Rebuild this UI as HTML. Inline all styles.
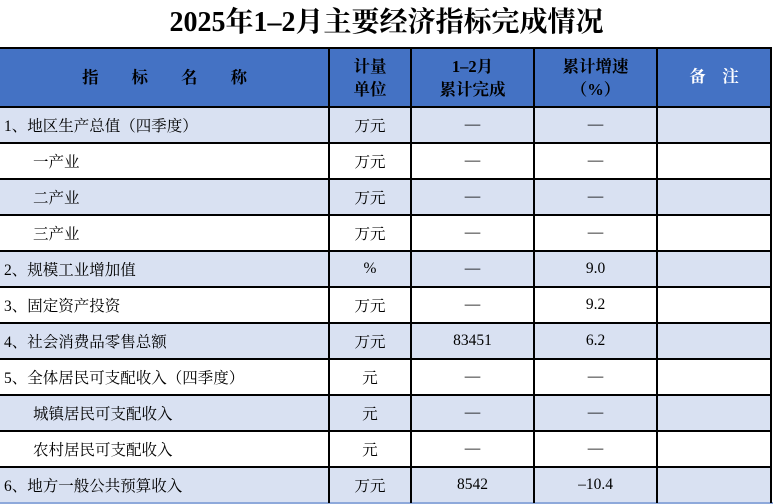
<!DOCTYPE html>
<html><head><meta charset="utf-8"><style>
body{margin:0;width:773px;height:504px;background:#fff;position:relative;overflow:hidden;font-family:"Liberation Serif","Noto Serif CJK SC",serif;color:#000}
.t{position:absolute;left:0;top:3px;width:773px;text-align:center;font-size:28px;font-weight:bold;line-height:40px}
.c{position:absolute;box-sizing:border-box;display:flex;align-items:center;justify-content:center;font-size:15.5px;text-align:center}
.h{font-weight:bold;line-height:23px;font-size:16.5px}
.l{justify-content:flex-start;padding-left:4px}
.l2{justify-content:flex-start;padding-left:33px}
.hl{position:absolute;height:2px;background:#000;left:0;width:772px}
.vl{position:absolute;width:2px;background:#000;top:47px;height:456px}
</style></head><body>
<div class="t">2025年1–2月主要经济指标完成情况</div>
<div style="position:absolute;left:0;top:48px;width:771px;height:59px;background:#4472C4"></div>
<div style="position:absolute;left:0;top:107px;width:771px;height:36px;background:#D9E1F2"></div>
<div style="position:absolute;left:0;top:179px;width:771px;height:36px;background:#D9E1F2"></div>
<div style="position:absolute;left:0;top:251px;width:771px;height:36px;background:#D9E1F2"></div>
<div style="position:absolute;left:0;top:323px;width:771px;height:36px;background:#D9E1F2"></div>
<div style="position:absolute;left:0;top:395px;width:771px;height:36px;background:#D9E1F2"></div>
<div style="position:absolute;left:0;top:467px;width:771px;height:36px;background:#D9E1F2"></div>
<div style="position:absolute;left:0;top:502px;width:773px;height:2px;background:#8EA9DB"></div>

<div class="c h" style="left:0;top:48px;width:329px;height:59px">指&emsp;&emsp;标&emsp;&emsp;名&emsp;&emsp;称</div>
<div class="c h" style="left:329px;top:48px;width:82px;height:59px">计量<br>单位</div>
<div class="c h" style="left:411px;top:48px;width:123px;height:59px">1–2月<br>累计完成</div>
<div class="c h" style="left:534px;top:48px;width:123px;height:59px">累计增速<br>（%）</div>
<div class="c h" style="left:657px;top:48px;width:114px;height:59px;color:#fff;align-items:flex-start;padding-top:17px">备&emsp;注</div>

<div class="c l" style="left:0;top:107px;width:329px;height:36px">1、地区生产总值（四季度）</div>
<div class="c l2" style="left:0;top:143px;width:329px;height:36px">一产业</div>
<div class="c l2" style="left:0;top:179px;width:329px;height:36px">二产业</div>
<div class="c l2" style="left:0;top:215px;width:329px;height:36px">三产业</div>
<div class="c l" style="left:0;top:251px;width:329px;height:36px">2、规模工业增加值</div>
<div class="c l" style="left:0;top:287px;width:329px;height:36px">3、固定资产投资</div>
<div class="c l" style="left:0;top:323px;width:329px;height:36px">4、社会消费品零售总额</div>
<div class="c l" style="left:0;top:359px;width:329px;height:36px">5、全体居民可支配收入（四季度）</div>
<div class="c l2" style="left:0;top:395px;width:329px;height:36px">城镇居民可支配收入</div>
<div class="c l2" style="left:0;top:431px;width:329px;height:36px">农村居民可支配收入</div>
<div class="c l" style="left:0;top:467px;width:329px;height:36px">6、地方一般公共预算收入</div>

<div class="c" style="left:329px;top:107px;width:82px;height:36px">万元</div>
<div class="c" style="left:329px;top:143px;width:82px;height:36px">万元</div>
<div class="c" style="left:329px;top:179px;width:82px;height:36px">万元</div>
<div class="c" style="left:329px;top:215px;width:82px;height:36px">万元</div>
<div class="c" style="left:329px;top:251px;width:82px;height:36px">%</div>
<div class="c" style="left:329px;top:287px;width:82px;height:36px">万元</div>
<div class="c" style="left:329px;top:323px;width:82px;height:36px">万元</div>
<div class="c" style="left:329px;top:359px;width:82px;height:36px">元</div>
<div class="c" style="left:329px;top:395px;width:82px;height:36px">元</div>
<div class="c" style="left:329px;top:431px;width:82px;height:36px">元</div>
<div class="c" style="left:329px;top:467px;width:82px;height:36px">万元</div>

<div class="c" style="left:411px;top:107px;width:123px;height:36px">—</div>
<div class="c" style="left:411px;top:143px;width:123px;height:36px">—</div>
<div class="c" style="left:411px;top:179px;width:123px;height:36px">—</div>
<div class="c" style="left:411px;top:215px;width:123px;height:36px">—</div>
<div class="c" style="left:411px;top:251px;width:123px;height:36px">—</div>
<div class="c" style="left:411px;top:287px;width:123px;height:36px">—</div>
<div class="c" style="left:411px;top:323px;width:123px;height:36px">83451</div>
<div class="c" style="left:411px;top:359px;width:123px;height:36px">—</div>
<div class="c" style="left:411px;top:395px;width:123px;height:36px">—</div>
<div class="c" style="left:411px;top:431px;width:123px;height:36px">—</div>
<div class="c" style="left:411px;top:467px;width:123px;height:36px">8542</div>

<div class="c" style="left:534px;top:107px;width:123px;height:36px">—</div>
<div class="c" style="left:534px;top:143px;width:123px;height:36px">—</div>
<div class="c" style="left:534px;top:179px;width:123px;height:36px">—</div>
<div class="c" style="left:534px;top:215px;width:123px;height:36px">—</div>
<div class="c" style="left:534px;top:251px;width:123px;height:36px">9.0</div>
<div class="c" style="left:534px;top:287px;width:123px;height:36px">9.2</div>
<div class="c" style="left:534px;top:323px;width:123px;height:36px">6.2</div>
<div class="c" style="left:534px;top:359px;width:123px;height:36px">—</div>
<div class="c" style="left:534px;top:395px;width:123px;height:36px">—</div>
<div class="c" style="left:534px;top:431px;width:123px;height:36px">—</div>
<div class="c" style="left:534px;top:467px;width:123px;height:36px">–10.4</div>

<div class="hl" style="top:47px"></div>
<div class="hl" style="top:106px"></div>
<div class="hl" style="top:142px"></div>
<div class="hl" style="top:178px"></div>
<div class="hl" style="top:214px"></div>
<div class="hl" style="top:250px"></div>
<div class="hl" style="top:286px"></div>
<div class="hl" style="top:322px"></div>
<div class="hl" style="top:358px"></div>
<div class="hl" style="top:394px"></div>
<div class="hl" style="top:430px"></div>
<div class="hl" style="top:466px"></div>
<div class="vl" style="left:328px"></div>
<div class="vl" style="left:410px"></div>
<div class="vl" style="left:533px"></div>
<div class="vl" style="left:656px"></div>
<div class="vl" style="left:770px"></div>
</body></html>
